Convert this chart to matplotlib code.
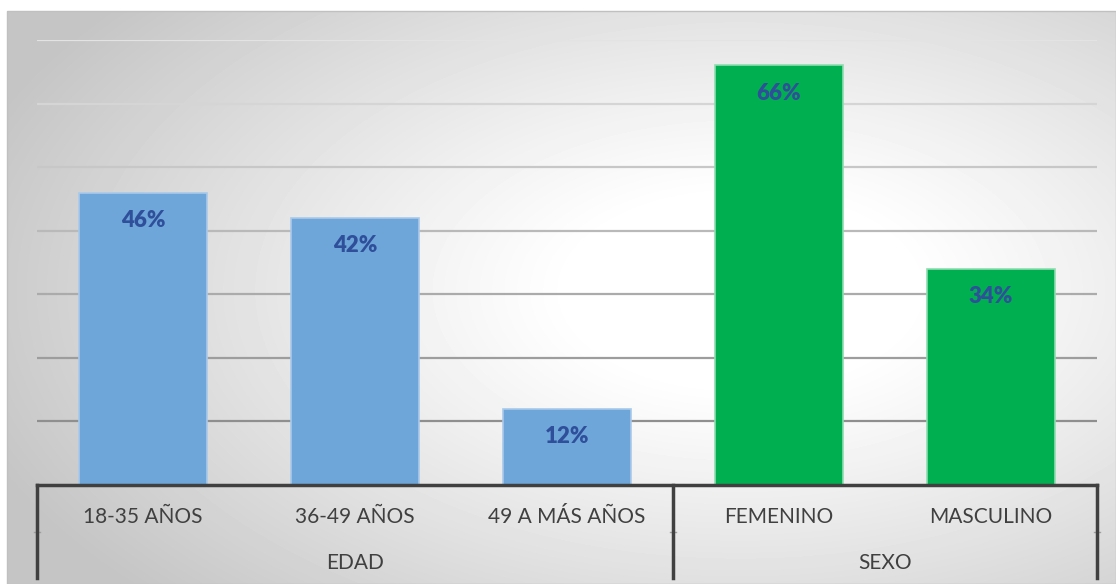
import numpy as np
import matplotlib
matplotlib.use('Agg')
import matplotlib.pyplot as plt

# datos
categorias = ['18-35 AÑOS', '36-49 AÑOS', '49 A MÁS AÑOS', 'FEMENINO', 'MASCULINO']
grupos = ['EDAD', 'SEXO']
tamano_grupos = [3, 2]
valores = [0.46, 0.42, 0.12, 0.66, 0.34]
colores_grupo = ['#6FA6DA', '#00B050']
bordes_grupo = ['#A8CAEA', '#8EDDB0']

plt.rcParams['font.family'] = ['Lato', 'DejaVu Sans']

W, H = 1116, 584
fig = plt.figure(figsize=(W / 100, H / 100), dpi=100)

# fondo con degradado radial
bg = fig.add_axes([7 / W, 0, 1 - 7 / W, (H - 11) / H])
yy, xx = np.mgrid[11:H, 7:W]
d = np.sqrt(((xx - 740) / 760.0) ** 2 + ((yy - 290) / 420.0) ** 2)
img = 1 - 0.23 * np.clip((d - 0.22) / 0.85, 0, 1) ** 1.1
bg.imshow(img, cmap='gray', vmin=0, vmax=1, aspect='auto', interpolation='bilinear')
bg.set_axis_off()
fig.patches.append(plt.Rectangle((7 / W, 0), 1 - 7 / W, (H - 11) / H, transform=fig.transFigure,
                                 fill=False, edgecolor='#c0c0c0', linewidth=1))

# ejes principales
x0, x1, ytop, ybase = 37, 1097, 40, 485
ax = fig.add_axes([x0 / W, (H - ybase) / H, (x1 - x0) / W, (ybase - ytop) / H])
ax.patch.set_alpha(0)
ax.set_xlim(-0.5, len(categorias) - 0.5)
ax.set_ylim(0, 0.7)

# líneas de cuadrícula (más oscuras hacia abajo)
niveles = np.arange(0.1, 0.71, 0.1)
for v in niveles:
    g = 0.56 + 0.33 * (v - 0.1) / 0.6
    ax.axhline(v, color=(g, g, g), linewidth=1.6, zorder=1)

colores = []
bordes = []
for c, b, n in zip(colores_grupo, bordes_grupo, tamano_grupos):
    colores += [c] * n
    bordes += [b] * n

xs = np.arange(len(categorias))
ax.bar(xs, valores, width=0.6, color=colores, edgecolor=bordes, linewidth=1.2, zorder=2)

for x, v in zip(xs, valores):
    ax.annotate(f'{v * 100:.0f}%', (x, v), xytext=(0, -20), textcoords='offset points',
                ha='center', va='center', fontsize=16, fontweight='heavy', color='#2F4F9A', zorder=3)

for s in ax.spines.values():
    s.set_visible(False)
ax.set_xticks([])
ax.set_yticks([])

# eje de categorías en dos niveles (coordenadas de ejes en vertical)
tr = ax.get_xaxis_transform()
alto = ybase - ytop
lc = '#404040'
ax.plot([-0.5, len(categorias) - 0.5], [0, 0], color=lc, linewidth=2.5, clip_on=False, zorder=4,
        transform=tr)
y_fondo = -(578 - ybase) / alto
y_n1 = -(517 - ybase) / alto
y_n2 = -(563 - ybase) / alto
y_tick = -(532 - ybase) / alto
limites = np.concatenate([[0], np.cumsum(tamano_grupos)]) - 0.5
for b in limites:
    ax.plot([b, b], [0, y_fondo], color=lc, linewidth=2.5, clip_on=False, zorder=4, transform=tr)
    ax.plot([b - 0.015, b + 0.015], [y_tick, y_tick], color='#a0a0a0', linewidth=1,
            clip_on=False, transform=tr)

for x, c in zip(xs, categorias):
    ax.text(x, y_n1, c, ha='center', va='center', fontsize=15, color='#404040', transform=tr)
for i, g in enumerate(grupos):
    ax.text((limites[i] + limites[i + 1]) / 2, y_n2, g, ha='center', va='center',
            fontsize=15, color='#404040', transform=tr)

fig.savefig('out.png', dpi=100)
